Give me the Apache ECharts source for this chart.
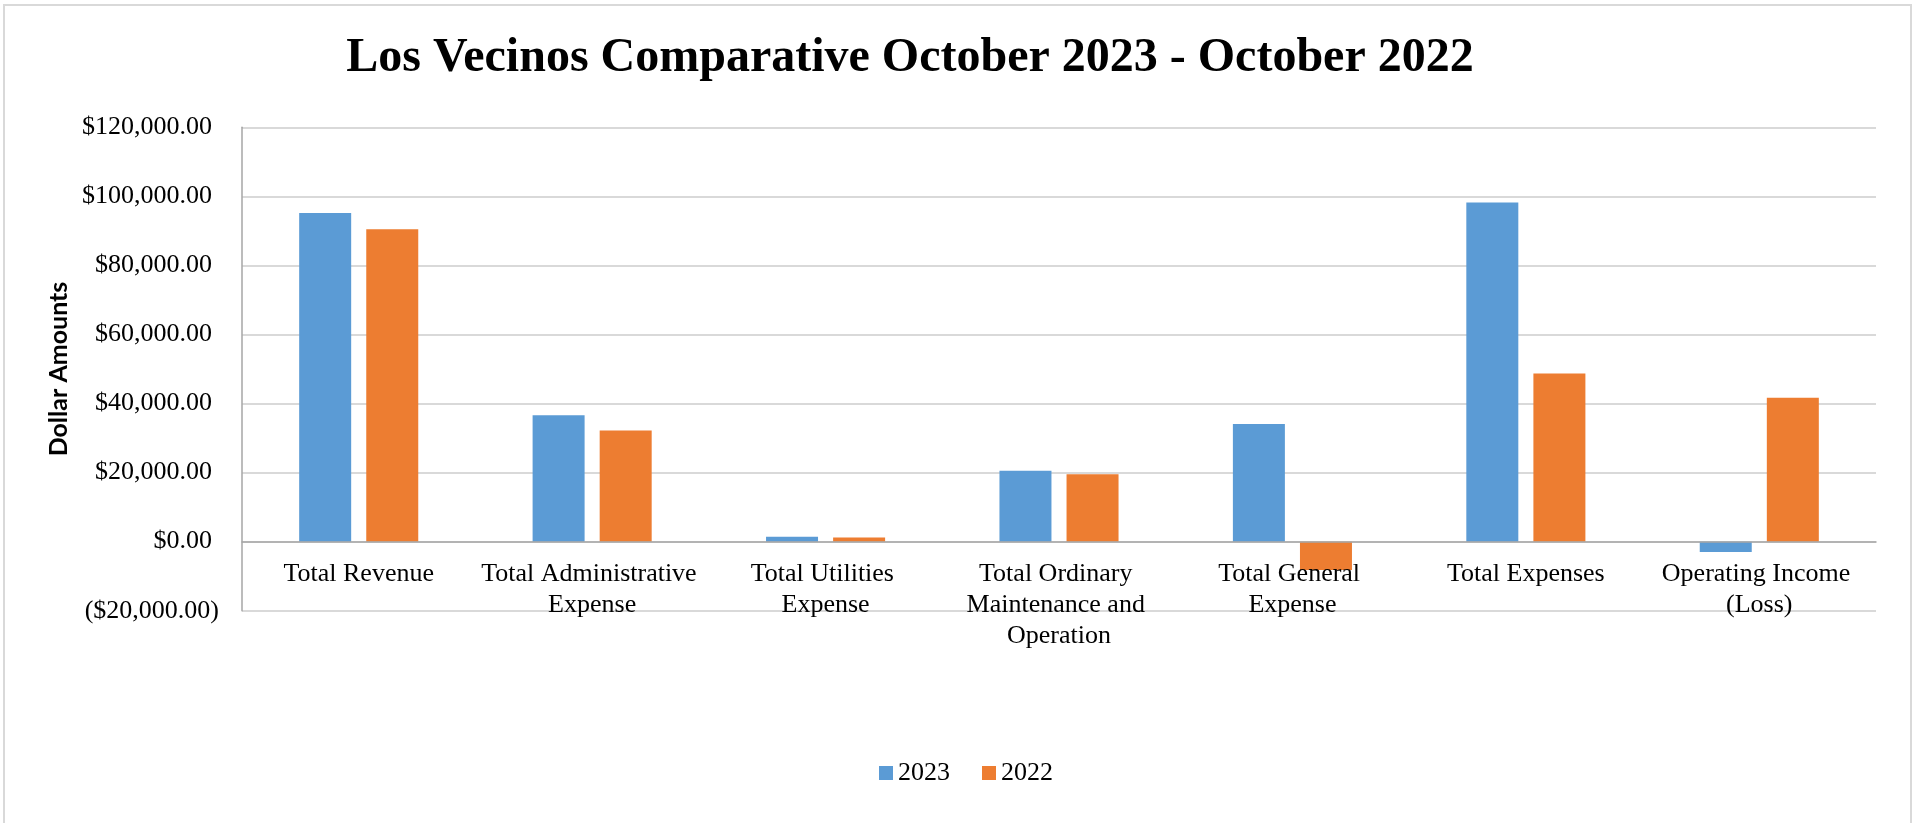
<!DOCTYPE html>
<html>
<head>
<meta charset="utf-8">
<title>Los Vecinos Comparative October 2023 - October 2022</title>
<script src="https://cdn.jsdelivr.net/npm/echarts@6/dist/echarts.min.js"></script>
<style>
  html, body { margin: 0; padding: 0; background: #ffffff; }
  #chart { width: 1917px; height: 823px; }
</style>
</head>
<body>
<div id="chart"></div>
<script>
// Line items compared between the two Octobers
const categories = [
  'Total Revenue',
  'Total Administrative Expense',
  'Total Utilities Expense',
  'Total Ordinary Maintenance and Operation',
  'Total General Expense',
  'Total Expenses',
  'Operating Income (Loss)'
];
const values2023 = [95200, 36600, 1400, 20500, 34100, 98200, -3000];
const values2022 = [90500, 32200, 1200, 19500, -8200, 48700, 41700];
const seriesNames = ['2023', '2022'];
const yTicks = { min: -20000, max: 120000, step: 20000 };

const serif = '"Liberation Serif", "Times New Roman", serif';

const W = 1917, H = 823;
const gridBox = { left: 242, right: 41, top: 127.3, bottom: 212.3 };
// lift the category axis (line and labels) up to the $0 level
const plotHeight = H - gridBox.top - gridBox.bottom;
const zeroOffset = plotHeight * (0 - yTicks.min) / (yTicks.max - yTicks.min);

function money(v) {
  const s = '$' + Math.abs(v).toLocaleString('en-US', { minimumFractionDigits: 2, maximumFractionDigits: 2 });
  // accounting style: negatives in parentheses, positives padded for the closing bracket
  return v < 0 ? '(' + s + ')' : '{pos|' + s + '}';
}

const chart = echarts.init(document.getElementById('chart'), null, { renderer: 'canvas' });

chart.setOption({
  backgroundColor: '#ffffff',
  animation: false,
  color: ['#5B9BD5', '#ED7D31'],
  graphic: [{
    type: 'rect',
    shape: { x: 4, y: 5, width: 1907, height: 830 },
    style: { fill: 'none', stroke: '#d9d9d9', lineWidth: 2 },
    silent: true
  }],
  title: {
    text: 'Los Vecinos Comparative October 2023 - October 2022',
    left: 905,
    textAlign: 'center',
    top: 30,
    textStyle: { fontFamily: serif, fontWeight: 'bold', fontSize: 48, color: '#000000' }
  },
  legend: {
    data: seriesNames,
    left: 874,
    top: 755,
    itemWidth: 14,
    itemHeight: 14,
    itemGap: 32,
    icon: 'rect',
    textStyle: { fontFamily: serif, fontSize: 26, color: '#000000' }
  },
  grid: { left: gridBox.left, right: gridBox.right, top: gridBox.top, bottom: gridBox.bottom, containLabel: false },
  xAxis: {
    type: 'category',
    data: categories,
    z: 5,
    offset: -zeroOffset,
    axisLine: { show: true, onZero: false, lineStyle: { color: '#a6a6a6', width: 1.5 } },
    axisTick: { show: false },
    splitLine: { show: false },
    axisLabel: {
      interval: 0,
      margin: 17,
      fontFamily: serif,
      fontSize: 26,
      lineHeight: 31,
      color: '#000000',
      width: 228,
      overflow: 'break'
    }
  },
  yAxis: {
    type: 'value',
    min: yTicks.min,
    max: yTicks.max,
    interval: yTicks.step,
    name: 'Dollar Amounts',
    nameLocation: 'middle',
    nameRotate: 90,
    nameGap: 170,
    nameTextStyle: { fontFamily: 'Lato, "Liberation Sans", sans-serif', fontWeight: 'bold', fontSize: 25, color: '#000000' },
    axisLine: { show: true, lineStyle: { color: '#a6a6a6', width: 1.5 } },
    axisTick: { show: false },
    splitLine: { show: true, lineStyle: { color: '#d9d9d9', width: 2 } },
    axisLabel: {
      margin: 23,
      fontFamily: serif,
      fontSize: 26,
      color: '#000000',
      formatter: money,
      rich: { pos: { fontFamily: serif, fontSize: 26, color: '#000000', padding: [0, 7, 0, 0] } }
    }
  },
  series: [
    {
      name: seriesNames[0],
      type: 'bar',
      data: values2023,
      barWidth: 52,
      barGap: '29%'
    },
    {
      name: seriesNames[1],
      type: 'bar',
      data: values2022,
      barWidth: 52,
      barGap: '29%'
    }
  ]
});
</script>
</body>
</html>
